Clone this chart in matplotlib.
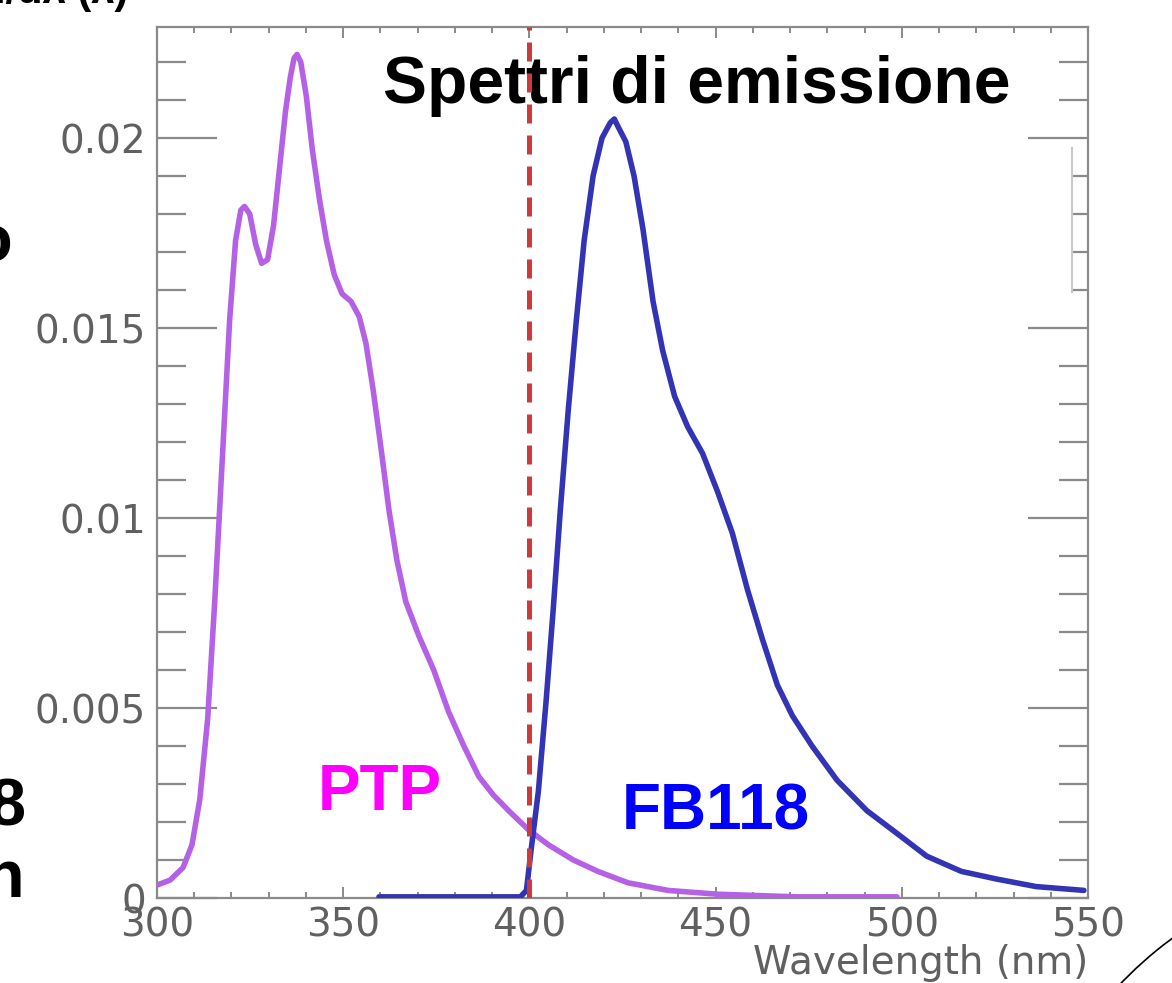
import numpy as np
import matplotlib
matplotlib.use("Agg")
import matplotlib.pyplot as plt
from matplotlib.ticker import MultipleLocator
from matplotlib.patches import Arc
from matplotlib.transforms import IdentityTransform

# emission spectra (wavelength nm, intensity)
ptp_wl = [300, 303.5, 307, 309.4, 311.5, 313.6, 315.5, 317.4, 319.5, 321.1, 322.5, 323.5,
          324.9, 326.5, 328.1, 329.7, 331.3, 332.9, 334.5, 335.8, 336.8, 337.6, 338.6, 340.1,
          341.7, 343.6, 345.5, 347.6, 349.7, 352.1, 354.3, 356.1, 358, 360.2, 362.3, 364.4,
          366.8, 370.3, 374.3, 378.3, 382.4, 386.4, 390.4, 394.4, 399.7, 405.1, 411.8, 418.4,
          426.5, 437.2, 450.5, 472, 498.7]
ptp_int = [0.00034, 0.00047, 0.0008, 0.0014, 0.0026, 0.0047, 0.0078, 0.0113, 0.0152, 0.0173,
           0.0181, 0.0182, 0.0180, 0.0172, 0.0167, 0.0168, 0.0177, 0.0192, 0.0207, 0.0216,
           0.0221, 0.0222, 0.0220, 0.0211, 0.0197, 0.0184, 0.0173, 0.0164, 0.0159, 0.0157,
           0.0153, 0.0146, 0.0134, 0.0118, 0.0102, 0.0089, 0.0078, 0.0069, 0.0060, 0.0049,
           0.0040, 0.0032, 0.0027, 0.0023, 0.0018, 0.0014, 0.0010, 0.0007, 0.0004, 0.0002,
           0.0001, 0.00003, 0.00003]

fb_wl = [359.6, 378.3, 397.6, 399.2, 400.5, 402.4, 404.5, 406.4, 408.3, 410.4, 412.6, 414.7,
         417.1, 419.5, 421.7, 422.8, 423.8, 425.9, 428.1, 430.5, 433.2, 435.8, 439, 442.5,
         446.5, 450.5, 454.5, 458.6, 462.6, 466.6, 470.6, 475.9, 482.6, 490.6, 498.7, 506.7,
         516, 525.4, 536.1, 548.9]
fb_int = [0.00003, 0.00003, 0.00003, 0.0002, 0.0013, 0.0028, 0.0052, 0.0076, 0.0102, 0.0128,
          0.0152, 0.0173, 0.0190, 0.0200, 0.0204, 0.0205, 0.0203, 0.0199, 0.0190, 0.0176,
          0.0157, 0.0144, 0.0132, 0.0124, 0.0117, 0.0107, 0.0096, 0.0081, 0.0068, 0.0056,
          0.0048, 0.0040, 0.0031, 0.0023, 0.0017, 0.0011, 0.0007, 0.0005, 0.0003, 0.0002]

cut_wl = 400
y_ticks = [0, 0.005, 0.01, 0.015, 0.02]
y_labels = ["0", "0.005", "0.01", "0.015", "0.02"]
x_ticks = [300, 350, 400, 450, 500, 550]

grey = "#606060"

fig = plt.figure(figsize=(11.72, 9.83), dpi=100)
ax = fig.add_axes([157/1172, 1-898/983, (1088-157)/1172, (898-27)/983])

ax.plot(ptp_wl, ptp_int, color="#b561e6", lw=4.0, solid_joinstyle="round",
        solid_capstyle="round", zorder=3)
ax.plot(fb_wl, fb_int, color="#3333b5", lw=4.0, solid_joinstyle="round",
        solid_capstyle="round", zorder=3)
ax.axvline(cut_wl, color="#cc3a3a", lw=3.6, linestyle=(0, (3.8, 2.4)), zorder=4)

ax.set_xlim(300, 550)
ax.set_ylim(0, (898-27)/38000)

ax.set_xticks(x_ticks)
ax.set_yticks(y_ticks)
ax.set_yticklabels(y_labels)
ax.xaxis.set_minor_locator(MultipleLocator(10))
ax.yaxis.set_minor_locator(MultipleLocator(0.001))

ax.tick_params(axis="y", which="major", direction="in", length=43, width=1.6, color="#8a8a8a",
               left=True, right=True, pad=8, labelsize=28, labelcolor=grey)
ax.tick_params(axis="y", which="minor", direction="in", length=21, width=1.6, color="#8a8a8a",
               left=True, right=True)
ax.tick_params(axis="x", which="major", direction="in", length=8, width=1.4, color="#8a8a8a",
               bottom=True, top=True, pad=6, labelsize=28, labelcolor=grey)
ax.tick_params(axis="x", which="minor", direction="in", length=4, width=1.4, color="#8a8a8a",
               bottom=True, top=True)
for s in ax.spines.values():
    s.set_color("#8a8a8a")
    s.set_linewidth(1.6)

ax.set_xlabel("Wavelength (nm)", fontsize=28, color=grey, loc="right", labelpad=0)

# white box hiding the original legend
box = plt.Rectangle((438.3, 0.01595), 107.4, 0.00379, facecolor="white", edgecolor="none",
                    zorder=5, clip_on=False)
ax.add_patch(box)
ax.plot([545.7, 545.7], [0.01595, 0.01974], color="#c8c8c8", lw=1.5, zorder=6)

bold = dict(family="Liberation Sans", weight="bold")
ax.text(383/1172, 1-103/983, "Spettri di emissione", transform=fig.transFigure,
        fontsize=47.5, color="black", **bold)
ax.text(318/1172, 1-810/983, "PTP", transform=fig.transFigure,
        fontsize=46, color="#ff00ff", **bold)
ax.text(622/1172, 1-829/983, "FB118", transform=fig.transFigure,
        fontsize=46, color="#0000ff", **bold)

# pieces of the slide around the chart
fig.text(128/1172, 1-3/983, "dN/dλ (λ)", ha="right", va="baseline", fontsize=30,
         color="black", family=["Liberation Sans", "DejaVu Sans"], weight="bold")
fig.text(26/1172, 1-825/983, "8", ha="right", va="baseline", fontsize=48, **bold)
fig.text(24/1172, 1-897/983, "n", ha="right", va="baseline", fontsize=48, **bold)
fig.text(12/1172, 1-262/983, "o", ha="right", va="baseline", fontsize=48, **bold)

arc = Arc((1400, -267), 772, 772, theta1=118, theta2=140,
          transform=IdentityTransform(), color="black", lw=1.2)
fig.add_artist(arc)

fig.savefig("out.png", dpi=100, facecolor="white")
